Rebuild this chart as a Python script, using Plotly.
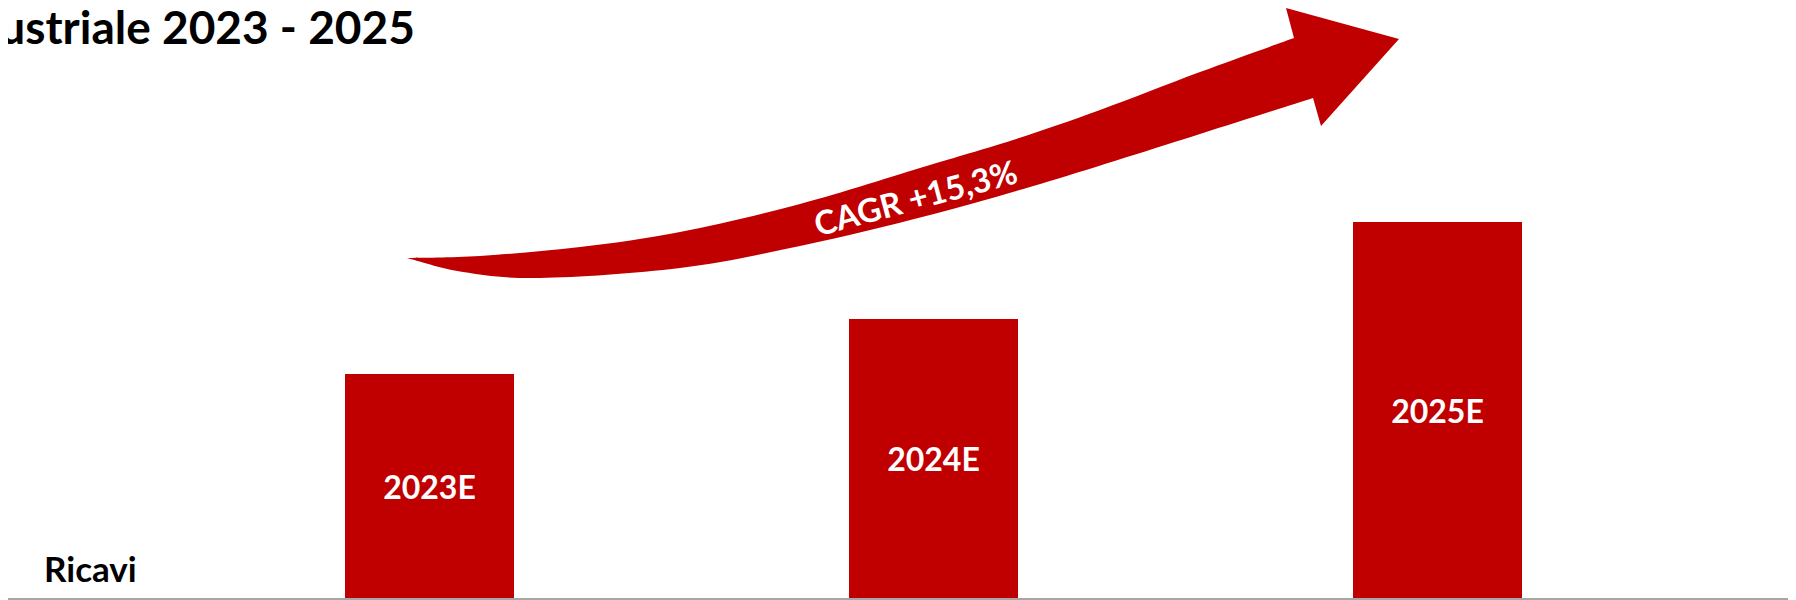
import plotly.graph_objects as go

# ---- data ----
categories = ["2023E", "2024E", "2025E"]
ricavi = [22.4, 27.9, 37.6]          # relative revenue (bar heights)
title_text = "Piano Industriale 2023 - 2025"
row_label = "Ricavi"
cagr_label = "CAGR +15,3%"

# the page body has an 8px margin, so the figure is sized / placed to compensate
OFF = 8
W, H = 1796 - OFF, 600 - OFF
PLOT_H = H - 2
RED = "#C00000"
FONT = "Lato"

fig = go.Figure()
fig.add_trace(go.Bar(
    x=categories, y=ricavi, width=0.335,
    marker=dict(color=RED, line=dict(width=0)),
    text=categories, textposition="inside", insidetextanchor="middle",
    textangle=0,
    textfont=dict(family=FONT, size=32, color="white", weight="bold"),
    hoverinfo="skip",
))

# ---- decorative curved arrow (page-pixel outline -> paper coords) ----
def P(px, py):
    return ((px - OFF) / W, 1 - (py - OFF) / PLOT_H)

top = [(407, 258), (480, 256), (580, 247), (680, 232), (800, 204), (930, 165),
       (1013, 140), (1100, 110), (1200, 72), (1294, 38)]
head = [(1286, 8), (1399, 39), (1321, 126), (1313, 98)]
bottom = [(1313, 98), (1200, 134), (1050, 181), (930, 215), (800, 246),
          (680, 268), (540, 278), (463, 272), (407, 258)]

def smooth(pts):
    pts = [P(*p) for p in pts]
    segs = []
    n = len(pts)
    for i in range(n - 1):
        p0 = pts[i - 1] if i > 0 else pts[i]
        p1 = pts[i]
        p2 = pts[i + 1]
        p3 = pts[i + 2] if i + 2 < n else pts[i + 1]
        c1 = (p1[0] + (p2[0] - p0[0]) / 6, p1[1] + (p2[1] - p0[1]) / 6)
        c2 = (p2[0] - (p3[0] - p1[0]) / 6, p2[1] - (p3[1] - p1[1]) / 6)
        segs.append(f"C {c1[0]:.5f},{c1[1]:.5f} {c2[0]:.5f},{c2[1]:.5f} {p2[0]:.5f},{p2[1]:.5f}")
    return " ".join(segs)

s = P(*top[0])
path = f"M {s[0]:.5f},{s[1]:.5f} " + smooth(top)
for hp in head:
    q = P(*hp)
    path += f" L {q[0]:.5f},{q[1]:.5f}"
path += " " + smooth(bottom) + " Z"

fig.add_shape(type="path", path=path, xref="paper", yref="paper",
              fillcolor=RED, line=dict(width=0), layer="above")

# ---- texts ----
tx, _ = P(417, 0)
fig.add_annotation(text=title_text, xref="paper", yref="paper",
                   x=tx, y=1, xanchor="right", yanchor="top", yshift=11,
                   showarrow=False,
                   font=dict(family=FONT, size=46, color="black", weight="bold"))
rx, ry = P(42, 568)
fig.add_annotation(text=row_label, xref="paper", yref="paper",
                   x=rx, y=ry, xanchor="left", yanchor="middle",
                   showarrow=False,
                   font=dict(family=FONT, size=35, color="black", weight="bold"))
cx, cy = P(915, 197)
fig.add_annotation(text=cagr_label, xref="paper", yref="paper",
                   x=cx, y=cy, xanchor="center", yanchor="middle",
                   textangle=-15, showarrow=False,
                   font=dict(family=FONT, size=33, color="white", weight="bold"))

# category centres at page x = 429.5 + 504*i
c0 = (429.5 - OFF) / 504
fig.update_layout(
    width=W, height=H,
    margin=dict(l=0, r=0, t=0, b=2, pad=0),
    paper_bgcolor="white", plot_bgcolor="white",
    showlegend=False,
    bargap=0,
    xaxis=dict(type="category", range=[-c0, -c0 + W / 504], showticklabels=False,
               showgrid=False, zeroline=False, showline=True,
               linecolor="#A6A6A6", linewidth=2, ticks=""),
    yaxis=dict(range=[0, PLOT_H / 10], visible=False, showgrid=False, zeroline=False),
)

fig.write_html("out.html")
